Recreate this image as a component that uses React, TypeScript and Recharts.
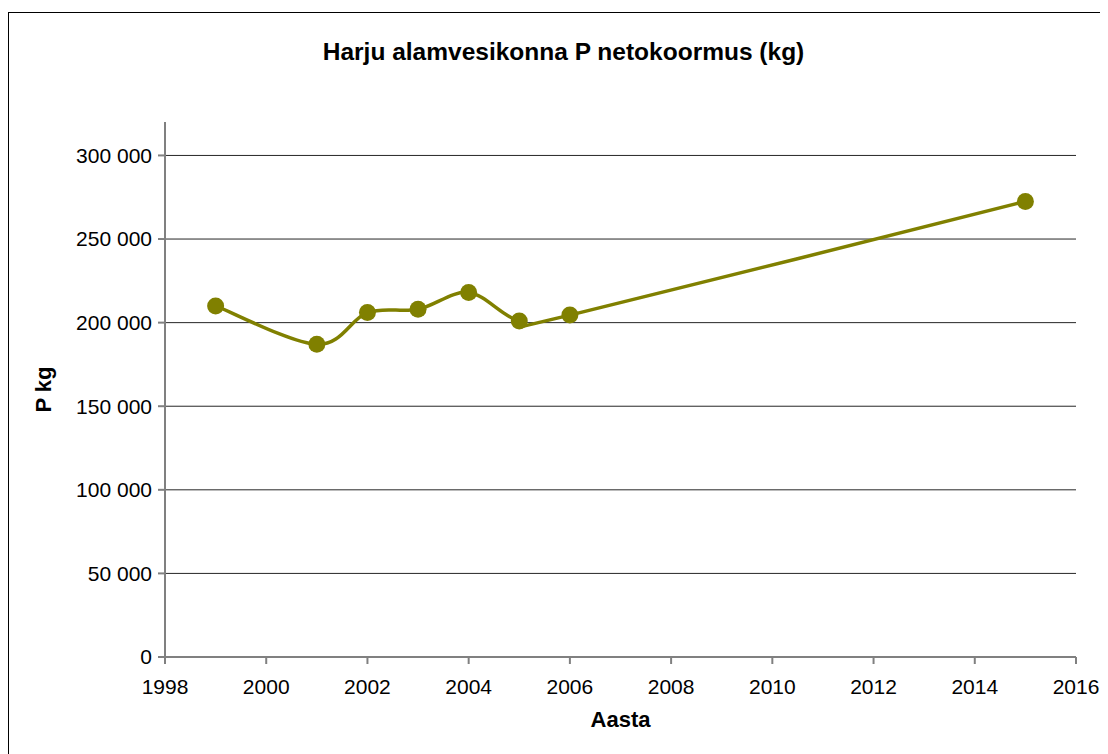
import React from 'react';
import { LineChart, Line, XAxis, YAxis, CartesianGrid, Label } from 'recharts';

const years = [1999, 2001, 2002, 2003, 2004, 2005, 2006, 2015];
const loads = [210000, 187000, 206000, 208000, 218000, 201000, 204500, 272500];
const xTicks = [1998, 2000, 2002, 2004, 2006, 2008, 2010, 2012, 2014, 2016];
const yTicks = [0, 50000, 100000, 150000, 200000, 250000, 300000];
const gridValues = [50000, 100000, 150000, 200000, 250000, 300000];

const data = years.map((y, i) => ({ year: y, load: loads[i] }));

const COLOR = '#808000';
const FONT = '"Liberation Sans", Arial, sans-serif';

// Excel-like smoothed line (Catmull-Rom via cubic Bezier)
const excelCurve: any = (context: any) => {
  let pts: [number, number][] = [];
  return {
    areaStart() {},
    areaEnd() {},
    lineStart() {
      pts = [];
    },
    point(x: number, y: number) {
      pts.push([+x, +y]);
    },
    lineEnd() {
      if (!pts.length) return;
      context.moveTo(pts[0][0], pts[0][1]);
      for (let i = 0; i < pts.length - 1; i++) {
        const p0 = pts[i - 1] || pts[i];
        const p1 = pts[i];
        const p2 = pts[i + 1];
        const p3 = pts[i + 2] || pts[i + 1];
        const c1x = p1[0] + (p2[0] - p0[0]) / 6;
        const c1y = p1[1] + (p2[1] - p0[1]) / 6;
        const c2x = p2[0] - (p3[0] - p1[0]) / 6;
        const c2y = p2[1] - (p3[1] - p1[1]) / 6;
        context.bezierCurveTo(c1x, c1y, c2x, c2y, p2[0], p2[1]);
      }
    },
  };
};

const fmt = (v: number) => String(v).replace(/\B(?=(\d{3})+(?!\d))/g, ' ');

export default function App() {
  return (
    <div
      style={{
        position: 'relative',
        marginTop: 4,
        width: 1110,
        height: 760,
        border: '1px solid #000',
        background: '#fff',
        fontFamily: FONT,
      }}
    >
      <div
        style={{
          position: 'absolute',
          left: 0,
          width: 1109,
          top: 24,
          textAlign: 'center',
          fontWeight: 'bold',
          fontSize: 24.5,
          lineHeight: '30px',
          fontFamily: FONT,
          color: '#000',
        }}
      >
        <span style={{ position: 'relative', left: 0 }}>Harju alamvesikonna P netokoormus (kg)</span>
      </div>
      <LineChart
        width={1100}
        height={742}
        data={data}
        margin={{ top: 109, right: 33, bottom: 22, left: 0 }}
      >
        <CartesianGrid
          horizontal={true}
          vertical={false}
          horizontalValues={gridValues}
          stroke="#262626"
          strokeWidth={1}
        />
        <XAxis
          dataKey="year"
          type="number"
          domain={[1998, 2016]}
          ticks={xTicks}
          interval={0}
          height={76}
          tickSize={7}
          tickMargin={15}
          stroke="#808080"
          strokeWidth={2}
          tick={{ fill: '#000', fontSize: 21, fontFamily: FONT }}
        >
          <Label
            value="Aasta"
            position="insideBottom"
            offset={6}
            style={{ fontWeight: 'bold', fontSize: 22, fill: '#000', fontFamily: FONT }}
          />
        </XAxis>
        <YAxis
          type="number"
          domain={[0, 320000]}
          ticks={yTicks}
          interval={0}
          width={156}
          tickSize={7}
          tickMargin={6}
          tickFormatter={fmt}
          stroke="#808080"
          strokeWidth={2}
          tick={{ fill: '#000', fontSize: 21, fontFamily: FONT }}
        >
          <Label
            value="P kg"
            angle={-90}
            position="insideLeft"
            offset={34}
            style={{ fontWeight: 'bold', fontSize: 22, fill: '#000', fontFamily: FONT, textAnchor: 'middle' }}
          />
        </YAxis>
        <Line
          dataKey="load"
          type={excelCurve}
          stroke={COLOR}
          strokeWidth={3.5}
          dot={{ r: 8.5, fill: COLOR, stroke: COLOR, strokeWidth: 0 }}
          activeDot={false}
          isAnimationActive={false}
        />
      </LineChart>
    </div>
  );
}
